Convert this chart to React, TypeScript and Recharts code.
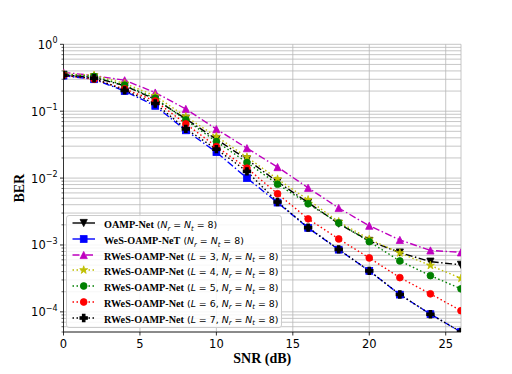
import React from 'react';
import { LineChart, Line, XAxis, YAxis, CartesianGrid, Legend } from 'recharts';

const snr = [0, 2, 4, 6, 8, 10, 12, 14, 16, 18, 20, 22, 24, 26];
const oampNet = [0.35, 0.32, 0.24, 0.15, 0.077, 0.038, 0.019, 0.0088, 0.0043, 0.00208, 0.00115, 0.00077, 0.000563, 0.000505];
const wesOampNet = [0.34, 0.3, 0.2, 0.12, 0.0517, 0.0244, 0.01, 0.0043, 0.0018, 0.00085, 0.00041, 0.000181, 0.0000924, 0.00005];
const rwesL3 = [0.38, 0.34, 0.29, 0.19, 0.108, 0.0539, 0.028, 0.0146, 0.00716, 0.00357, 0.00194, 0.00119, 0.000828, 0.000776];
const rwesL4 = [0.36, 0.345, 0.26, 0.17, 0.083, 0.0418, 0.0206, 0.00966, 0.00474, 0.00223, 0.00122, 0.00076, 0.000494, 0.000317];
const rwesL5 = [0.355, 0.33, 0.245, 0.156, 0.074, 0.0352, 0.0171, 0.0081, 0.00413, 0.00213, 0.00112, 0.000577, 0.000348, 0.000221];
const rwesL6 = [0.345, 0.3, 0.215, 0.142, 0.0646, 0.0296, 0.0141, 0.00583, 0.00246, 0.00123, 0.00064, 0.000325, 0.000186, 0.000104];
const rwesL7 = [0.345, 0.31, 0.205, 0.13, 0.0544, 0.0271, 0.0126, 0.0044, 0.00182, 0.00086, 0.00041, 0.000182, 0.000092, 0.00005];

const xTicks = [0, 5, 10, 15, 20, 25];
const yDecades = [0, -1, -2, -3, -4, -5];
const yMantissas = [1, 2, 3, 4, 5, 6, 7, 8, 9];
const yDomain = [5e-5, 1];
const yTicks: number[] = [];
yDecades.forEach((e) =>
  yMantissas.forEach((m) => {
    const v = m * Math.pow(10, e);
    if (v >= yDomain[0] - 1e-12 && v <= yDomain[1] + 1e-12) yTicks.push(v);
  })
);

const seriesNames = ['OAMP-Net', 'WeS-OAMP-NeT', 'RWeS-OAMP-Net', 'RWeS-OAMP-Net', 'RWeS-OAMP-Net', 'RWeS-OAMP-Net', 'RWeS-OAMP-Net'];
const seriesL: (number | null)[] = [null, null, 3, 4, 5, 6, 7];
const seriesKeys = ['oamp', 'wes', 'l3', 'l4', 'l5', 'l6', 'l7'];
const seriesValues = [oampNet, wesOampNet, rwesL3, rwesL4, rwesL5, rwesL6, rwesL7];
const seriesColors = ['#000000', '#0000ff', '#bf00bf', '#bfbf00', '#008000', '#ff0000', '#000000'];
const seriesShapes = ['tdown', 'square', 'tup', 'star', 'circle', 'circle', 'plus'];
const seriesDash = ['7 2.5 1.5 2.5', '7 2.5 1.5 2.5', '7 2.5 1.5 2.5', '1.5 2.5', '1.5 2.5', '1.5 2.5', '1.5 2.5'];
const legendDash = ['', '', '7 2.5 1.5 2.5', '1.5 2.5', '1.5 2.5', '1.5 2.5', '1.5 2.5'];

const data = snr.map((s, i) => {
  const row: Record<string, number> = { snr: s };
  seriesKeys.forEach((k, j) => (row[k] = seriesValues[j][i]));
  return row;
});

const W = 512;
const H = 374;
const MARGIN = { top: 44.3, right: 51, bottom: 12, left: 13.5 };
const Y_AXIS_W = 50;

function Marker({ shape, cx, cy, color }: { shape: string; cx: number; cy: number; color: string }) {
  const s = 3.6;
  const common = { fill: color, stroke: color, strokeWidth: 0.8 };
  switch (shape) {
    case 'tdown':
      return <polygon points={`${cx - s},${cy - s} ${cx + s},${cy - s} ${cx},${cy + s}`} {...common} />;
    case 'tup':
      return <polygon points={`${cx - s},${cy + s} ${cx + s},${cy + s} ${cx},${cy - s}`} {...common} />;
    case 'square':
      return <rect x={cx - s + 0.2} y={cy - s + 0.2} width={2 * s - 0.4} height={2 * s - 0.4} {...common} />;
    case 'circle':
      return <circle cx={cx} cy={cy} r={s - 0.2} {...common} />;
    case 'star': {
      const pts: string[] = [];
      const ro = s + 0.6;
      const ri = ro * 0.382;
      for (let k = 0; k < 10; k++) {
        const r = k % 2 === 0 ? ro : ri;
        const a = -Math.PI / 2 + (k * Math.PI) / 5;
        pts.push(`${cx + r * Math.cos(a)},${cy + r * Math.sin(a)}`);
      }
      return <polygon points={pts.join(' ')} {...common} />;
    }
    case 'plus': {
      const a = s;
      const b = s / 3;
      const p = [
        [-b, -a], [b, -a], [b, -b], [a, -b], [a, b], [b, b], [b, a], [-b, a], [-b, b], [-a, b], [-a, -b], [-b, -b],
      ]
        .map(([dx, dy]) => `${cx + dx},${cy + dy}`)
        .join(' ');
      return <polygon points={p} {...common} strokeWidth={1.2} />;
    }
    default:
      return null;
  }
}

const XTick = (props: any) => {
  const { x, y, payload } = props;
  return (
    <g>
      <line x1={x} x2={x} y1={y} y2={y + 3.5} stroke="#000" strokeWidth={0.8} />
      <text x={x} y={y + 16} textAnchor="middle" fontFamily="DejaVu Sans" fontSize={11.5} fill="#000">
        {payload.value}
      </text>
    </g>
  );
};

const YTick = (props: any) => {
  const { x, y, payload } = props;
  const v = payload.value;
  const lg = Math.log10(v);
  const e = Math.round(lg);
  const major = Math.abs(lg - e) < 1e-6;
  return (
    <g>
      <line x1={x} x2={x - (major ? 3.5 : 2)} y1={y} y2={y} stroke="#000" strokeWidth={major ? 0.8 : 0.6} />
      {major && (
        <text x={x - 6} y={y + 4.5} textAnchor="end" fontFamily="DejaVu Sans" fontSize={11.5} fill="#000">
          <tspan>10</tspan>
          <tspan dy={-5.5} fontSize={8}>
            {e === 0 ? '0' : '\u2212' + -e}
          </tspan>
        </text>
      )}
    </g>
  );
};

const XTitle = (props: any) => {
  const vb = props.viewBox || {};
  return (
    <text x={vb.x + vb.width / 2} y={vb.y + 31} textAnchor="middle" fontFamily="Liberation Serif" fontWeight="bold" fontSize={14} fill="#000">
      SNR (dB)
    </text>
  );
};

const YTitle = (props: any) => {
  const vb = props.viewBox || {};
  const cx = vb.x + 10.5;
  const cy = vb.y + vb.height / 2;
  const plotLeft = vb.x + vb.width;
  const plotRight = W - MARGIN.right;
  return (
    <g>
      <defs>
        <clipPath id="plot-area-clip">
          <rect x={plotLeft} y={vb.y} width={plotRight - plotLeft} height={vb.height} />
        </clipPath>
      </defs>
      <text x={cx} y={cy} transform={`rotate(-90, ${cx}, ${cy})`} textAnchor="middle" fontFamily="Liberation Serif" fontWeight="bold" fontSize={14} fill="#000">
        BER
      </text>
    </g>
  );
};

const mathFont = { fontFamily: 'DejaVu Sans', fontSize: 9.4 };
const subStyle: React.CSSProperties = { fontSize: 6.8, position: 'relative', top: 2.5, fontStyle: 'italic' };

function LegendLabel({ i }: { i: number }) {
  const L = seriesL[i];
  return (
    <span style={{ whiteSpace: 'nowrap' }}>
      <span style={{ fontFamily: 'Liberation Serif', fontWeight: 'bold', fontSize: 10.2 }}>{seriesNames[i]}</span>
      <span style={mathFont}>
        {' ('}
        {L !== null && (
          <>
            <i>L</i>
            {' = '}
            {L}
            {', '}
          </>
        )}
        <i>N</i>
        <span style={subStyle}>r</span>
        {' = '}
        <i>N</i>
        <span style={subStyle}>t</span>
        {' = 8)'}
      </span>
    </span>
  );
}

function LegendBox() {
  return (
    <div
      style={{
        position: 'relative',
        width: 216,
        height: 113,
        boxSizing: 'border-box',
        border: '1px solid #cccccc',
        borderRadius: 3,
        background: 'rgba(255,255,255,0.85)',
      }}
    >
      {seriesKeys.map((k, i) => (
        <div
          key={k}
          style={{
            position: 'absolute',
            left: 0,
            top: 7.3 + i * 15.7 - 7,
            height: 14,
            display: 'flex',
            alignItems: 'center',
            color: '#000',
          }}
        >
          <svg width={30} height={14} style={{ marginLeft: 3, marginRight: 4 }}>
            <line x1={2.5} x2={25} y1={7} y2={7} stroke={seriesColors[i]} strokeWidth={1.4} strokeDasharray={legendDash[i] || undefined} />
            <Marker shape={seriesShapes[i]} cx={13.7} cy={7} color={seriesColors[i]} />
          </svg>
          <LegendLabel i={i} />
        </div>
      ))}
    </div>
  );
}

export default function App() {
  return (
    <div style={{ position: 'absolute', left: 0, top: 0, width: W, height: H, background: '#fff' }}>
      <LineChart width={W} height={H} data={data} margin={MARGIN}>
        <CartesianGrid stroke="#b8b8b8" strokeWidth={0.8} />
        <XAxis
          dataKey="snr"
          type="number"
          domain={[0, 26]}
          ticks={xTicks}
          interval={0}
          allowDataOverflow
          height={30}
          tickSize={0}
          tickMargin={0}
          tickLine={false}
          tick={<XTick />}
          axisLine={{ stroke: '#333', strokeWidth: 1 }}
          label={<XTitle />}
        />
        <XAxis xAxisId="top" orientation="top" type="number" domain={[0, 26]} height={0} tick={false} tickLine={false} axisLine={{ stroke: '#333', strokeWidth: 1 }} />
        <YAxis
          type="number"
          scale="log"
          domain={yDomain}
          ticks={yTicks}
          interval={0}
          allowDataOverflow
          width={Y_AXIS_W}
          tickSize={0}
          tickMargin={0}
          tickLine={false}
          tick={<YTick />}
          axisLine={{ stroke: '#333', strokeWidth: 1 }}
          label={<YTitle />}
        />
        <YAxis yAxisId="right" orientation="right" type="number" domain={[0, 1]} width={0} tick={false} tickLine={false} axisLine={{ stroke: '#333', strokeWidth: 1 }} />
        {seriesKeys.map((k, i) => (
          <Line
            key={k}
            dataKey={k}
            type="linear"
            stroke={seriesColors[i]}
            strokeWidth={1.4}
            strokeDasharray={seriesDash[i] || undefined}
            isAnimationActive={false}
            dot={(p: any) => (
              <g key={`${k}-${p.index}`} clipPath="url(#plot-area-clip)">
                <Marker shape={seriesShapes[i]} cx={p.cx} cy={p.cy} color={seriesColors[i]} />
              </g>
            )}
            activeDot={false}
          />
        ))}
        <Legend
          verticalAlign="middle"
          align="center"
          layout="horizontal"
          wrapperStyle={{ left: 66, top: 215, width: 216, height: 113 }}
          content={() => <LegendBox />}
        />
      </LineChart>
    </div>
  );
}
